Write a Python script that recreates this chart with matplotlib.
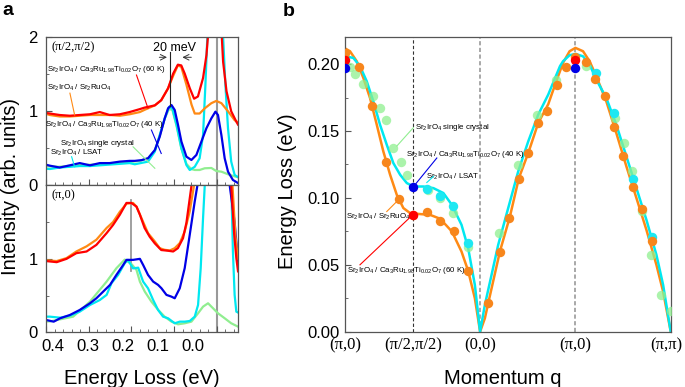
import matplotlib.pyplot as plt
import numpy as np
from matplotlib.ticker import MultipleLocator, FixedLocator, NullFormatter

plt.rcParams['font.family'] = ['Liberation Sans', 'DejaVu Sans']
plt.rcParams['mathtext.fontset'] = 'custom'
plt.rcParams['mathtext.rm'] = 'Liberation Sans'
plt.rcParams['mathtext.it'] = 'Liberation Sans:italic'
plt.rcParams['mathtext.bf'] = 'Liberation Sans:bold'
plt.rcParams['mathtext.default'] = 'regular'

# ---- panel a : RIXS spectra (energy loss in eV, intensity arb. units) ----
# (pi/2, pi/2)
top_red_E = [0.415, 0.391, 0.368, 0.344, 0.321, 0.297, 0.274, 0.251, 0.227, 0.204, 0.18, 0.169, 0.145, 0.13, 0.114, 0.102, 0.091, 0.083, 0.075, 0.063, 0.053, 0.044, 0.032, 0.024, 0.02, 0.01, 0.0, -0.008, -0.012, -0.015, -0.023, -0.034, -0.046, -0.05]
top_red_I = [0.99, 0.97, 0.95, 0.94, 0.95, 0.96, 0.99, 0.95, 0.96, 0.99, 1.03, 1.05, 1.08, 1.15, 1.31, 1.51, 1.63, 1.62, 1.51, 1.31, 1.17, 1.2, 1.45, 1.76, 2.05, 2.8, 3.2, 2.8, 2.0, 1.67, 1.27, 1.0, 0.86, 0.82]
top_orange_E = [0.415, 0.391, 0.368, 0.344, 0.321, 0.297, 0.274, 0.251, 0.227, 0.204, 0.18, 0.169, 0.145, 0.13, 0.114, 0.102, 0.091, 0.083, 0.071, 0.059, 0.0515, 0.04, 0.028, 0.0125, 0.001, -0.011, -0.0265, -0.042, -0.05]
top_orange_I = [0.99, 0.95, 0.93, 0.93, 0.94, 0.95, 0.95, 0.95, 0.94, 0.96, 0.99, 1.02, 1.08, 1.15, 1.31, 1.48, 1.62, 1.6, 1.36, 1.09, 0.97, 0.97, 1.04, 1.11, 1.14, 1.11, 1.0, 0.88, 0.85]
top_blue_E = [0.415, 0.391, 0.368, 0.344, 0.321, 0.297, 0.274, 0.251, 0.227, 0.204, 0.192, 0.176, 0.161, 0.145, 0.1335, 0.1218, 0.114, 0.106, 0.0984, 0.0906, 0.0827, 0.071, 0.0593, 0.0476, 0.0359, 0.0242, 0.0125, 0.003, -0.003, -0.011, -0.0187, -0.0265, -0.038, -0.05]
top_blue_I = [0.30, 0.265, 0.24, 0.27, 0.30, 0.27, 0.30, 0.30, 0.32, 0.33, 0.33, 0.34, 0.365, 0.477, 0.657, 0.905, 1.04, 1.085, 1.018, 0.815, 0.59, 0.387, 0.342, 0.41, 0.59, 0.77, 0.905, 0.995, 0.95, 0.678, 0.365, 0.184, 0.072, 0.03]
top_cyan_E = [0.415, 0.391, 0.368, 0.344, 0.321, 0.297, 0.274, 0.251, 0.227, 0.204, 0.192, 0.161, 0.145, 0.1335, 0.1218, 0.1117, 0.104, 0.094, 0.0827, 0.071, 0.0632, 0.0515, 0.04, 0.032, 0.0265, 0.0218, 0.01, 0.0, -0.01, -0.0148, -0.0204, -0.0265, -0.034, -0.042, -0.05]
top_cyan_I = [0.23, 0.22, 0.24, 0.25, 0.26, 0.26, 0.27, 0.28, 0.29, 0.30, 0.284, 0.32, 0.455, 0.68, 0.905, 1.06, 1.04, 0.815, 0.5, 0.274, 0.207, 0.25, 0.365, 0.68, 1.355, 2.03, 3.5, 4.0, 3.5, 2.03, 1.355, 0.77, 0.32, 0.14, 0.11]
top_green_E = [0.415, 0.37, 0.33, 0.29, 0.25, 0.21, 0.18, 0.16, 0.145, 0.1335, 0.122, 0.112, 0.104, 0.094, 0.083, 0.071, 0.06, 0.0515, 0.04, 0.028, 0.0125, 0.001, -0.011, -0.0265, -0.042, -0.05]
top_green_I = [0.26, 0.25, 0.27, 0.28, 0.29, 0.31, 0.33, 0.37, 0.47, 0.67, 0.9, 1.03, 1.02, 0.8, 0.5, 0.29, 0.22, 0.207, 0.207, 0.23, 0.234, 0.193, 0.184, 0.149, 0.12, 0.11]

# (pi, 0)
bot_red_E = [0.415, 0.4, 0.375, 0.352, 0.329, 0.305, 0.282, 0.258, 0.243, 0.227, 0.2115, 0.2, 0.188, 0.18, 0.169, 0.157, 0.145, 0.13, 0.114, 0.102, 0.091, 0.079, 0.071, 0.063, 0.059, 0.045, 0.02, 0.0, -0.02, -0.034, -0.041, -0.046, -0.05]
bot_red_I = [0.986, 0.97, 0.955, 1.0, 1.077, 1.1, 1.19, 1.35, 1.46, 1.6, 1.76, 1.76, 1.71, 1.6, 1.42, 1.30, 1.21, 1.12, 1.11, 1.10, 1.145, 1.28, 1.49, 1.83, 2.0, 2.8, 3.5, 3.8, 3.5, 2.0, 1.33, 1.01, 0.83]
bot_orange_E = [0.415, 0.375, 0.352, 0.329, 0.305, 0.282, 0.258, 0.243, 0.227, 0.2115, 0.196, 0.188, 0.176, 0.161, 0.145, 0.1335, 0.122, 0.11, 0.0984, 0.0866, 0.075, 0.0632, 0.0531, 0.04, 0.02, 0.0, -0.02, -0.037, -0.044, -0.05]
bot_orange_I = [0.986, 0.97, 1.01, 1.1, 1.17, 1.26, 1.42, 1.5, 1.64, 1.75, 1.76, 1.71, 1.55, 1.35, 1.236, 1.145, 1.123, 1.114, 1.145, 1.214, 1.372, 1.645, 2.0, 2.8, 3.5, 3.8, 3.5, 2.0, 1.3, 1.0]
bot_blue_E = [0.415, 0.4, 0.382, 0.367, 0.344, 0.321, 0.297, 0.282, 0.266, 0.25, 0.235, 0.219, 0.2115, 0.196, 0.18, 0.1725, 0.161, 0.149, 0.1374, 0.1295, 0.1178, 0.106, 0.0984, 0.0866, 0.075, 0.0632, 0.0515, 0.0452, 0.03, 0.0, -0.025, -0.0304, -0.042, -0.05]
bot_blue_I = [0.169, 0.169, 0.146, 0.192, 0.237, 0.305, 0.396, 0.464, 0.555, 0.646, 0.782, 0.918, 0.986, 0.986, 1.0, 0.918, 0.782, 0.691, 0.646, 0.6, 0.51, 0.486, 0.464, 0.6, 0.873, 1.327, 1.78, 2.0, 2.8, 3.5, 2.8, 2.0, 1.5, 0.96]
bot_cyan_E = [0.415, 0.391, 0.367, 0.344, 0.321, 0.297, 0.274, 0.258, 0.2466, 0.231, 0.2155, 0.208, 0.196, 0.184, 0.1725, 0.161, 0.149, 0.1374, 0.1257, 0.114, 0.0984, 0.0866, 0.075, 0.0632, 0.0515, 0.0437, 0.0375, 0.032, 0.028, 0.015, 0.0, -0.02, -0.0343, -0.038, -0.042, -0.046, -0.05]
bot_cyan_I = [0.214, 0.214, 0.2, 0.227, 0.282, 0.373, 0.44, 0.51, 0.669, 0.782, 0.941, 0.986, 0.87, 0.88, 0.691, 0.6, 0.441, 0.305, 0.214, 0.192, 0.124, 0.146, 0.146, 0.155, 0.214, 0.373, 0.873, 1.554, 2.0, 3.5, 4.0, 3.5, 2.0, 1.1, 0.51, 0.282, 0.27]
bot_green_E = [0.415, 0.39, 0.3365, 0.297, 0.258, 0.235, 0.2155, 0.2, 0.188, 0.18, 0.1686, 0.153, 0.137, 0.122, 0.106, 0.0906, 0.075, 0.0593, 0.0437, 0.032, 0.0203, 0.0086, -0.003, -0.0187, -0.034, -0.05]
bot_green_I = [0.146, 0.15, 0.214, 0.418, 0.691, 0.873, 0.99, 0.93, 0.85, 0.69, 0.555, 0.418, 0.305, 0.214, 0.146, 0.11, 0.124, 0.146, 0.26, 0.35, 0.396, 0.328, 0.26, 0.192, 0.124, 0.078]

# energy axis labels of panel a (in the original they sit slightly off the ticks)
e_labels = ['0.4', '0.3', '0.2', '0.1', '0.0']
e_label_px = [53, 88, 123, 158, 193]

# ---- panel b : magnon dispersion along (pi,0)-(pi/2,pi/2)-(0,0)-(pi,0)-(pi,pi) ----
path_labels = ['(π,0)', '(π/2,π/2)', '(0,0)', '(π,0)', '(π,π)']
path_lengths = [np.sqrt(2) / 2, np.sqrt(2) / 2, 1.0, 1.0]   # in units of pi
node_pos = np.concatenate([[0], np.cumsum(path_lengths)])

orange_q = [0, 0.147, 0.284, 0.424, 0.567, 0.708, 0.861, 0.995, 1.136, 1.289, 1.492, 1.622, 1.720, 1.821, 1.919, 2.017, 2.119, 2.216, 2.318, 2.414, 2.521, 2.616, 2.721, 2.815, 2.914, 3.019, 3.117, 3.218]
orange_E = [0.208, 0.1976, 0.1684, 0.1265, 0.0991, 0.0874, 0.0891, 0.0829, 0.0754, 0.0454, 0.0212, 0.0594, 0.0853, 0.1143, 0.1335, 0.156, 0.1652, 0.1847, 0.1979, 0.205, 0.2016, 0.1891, 0.1759, 0.1527, 0.1315, 0.1081, 0.0918, 0.0679]
cyan_q = [0.861, 0.995, 1.134, 1.282, 2.626, 2.815, 3.019, 3.218]
cyan_E = [0.1068, 0.1011, 0.0936, 0.0662, 0.1934, 0.1632, 0.1143, 0.0704]
green_q = [0.049, 0.102, 0.189, 0.294, 0.364, 0.424, 0.504, 0.582, 0.645, 0.872, 0.995, 1.126, 1.287, 1.614, 1.814, 2.006, 2.206, 2.521, 2.826, 2.924, 3.012, 3.117, 3.211, 3.316, 3.42]
green_E = [0.198, 0.1927, 0.1852, 0.176, 0.167, 0.158, 0.137, 0.127, 0.117, 0.106, 0.100, 0.0885, 0.063, 0.074, 0.1243, 0.1622, 0.1884, 0.1984, 0.1597, 0.141, 0.1198, 0.0903, 0.0574, 0.0275, 0.0155]
red_q = [0, 0.708, 2.414]
red_E = [0.2034, 0.0874, 0.2034]
blue_q = [0, 0.708, 2.414]
blue_E = [0.1972, 0.1078, 0.1974]

fit_orange_q = [0, 0.049, 0.12, 0.189, 0.259, 0.33, 0.399, 0.47, 0.54, 0.609, 0.68, 0.785, 0.89, 0.995, 1.118, 1.219, 1.289, 1.359, 1.414, 1.464, 1.499, 1.622, 1.727, 1.821, 1.919, 2.024, 2.129, 2.213, 2.284, 2.353, 2.414, 2.494, 2.563, 2.633, 2.738, 2.843, 2.949, 3.054, 3.159, 3.264, 3.334, 3.414]
fit_orange_E = [0.2116, 0.2096, 0.2021, 0.1897, 0.1747, 0.1547, 0.1347, 0.1173, 0.1023, 0.0924, 0.0886, 0.0879, 0.0873, 0.0844, 0.0749, 0.0599, 0.0454, 0.025, 0.0, 0.01, 0.0212, 0.06, 0.0861, 0.1148, 0.1335, 0.156, 0.170, 0.1871, 0.2009, 0.2096, 0.2121, 0.2096, 0.2021, 0.1909, 0.1722, 0.1485, 0.1235, 0.0999, 0.0761, 0.0499, 0.03, 0.0]
fit_cyan_q = [0, 0.084, 0.154, 0.225, 0.294, 0.364, 0.435, 0.504, 0.575, 0.645, 0.714, 0.819, 0.924, 1.029, 1.118, 1.219, 1.289, 1.359, 1.414, 1.464, 1.534, 1.604, 1.709, 1.814, 1.919, 2.024, 2.129, 2.252, 2.284, 2.353, 2.414, 2.494, 2.563, 2.633, 2.738, 2.843, 2.949, 3.054, 3.159, 3.264, 3.334, 3.414]
fit_cyan_E = [0.2058, 0.2046, 0.1984, 0.1871, 0.1722, 0.1547, 0.1397, 0.126, 0.1173, 0.1111, 0.1085, 0.1085, 0.1073, 0.1036, 0.0948, 0.0799, 0.0624, 0.035, 0.0, 0.02, 0.0424, 0.0649, 0.0924, 0.1198, 0.1422, 0.1622, 0.1772, 0.1984, 0.2021, 0.2066, 0.2076, 0.2058, 0.1996, 0.1884, 0.1747, 0.1547, 0.131, 0.1073, 0.0836, 0.0574, 0.035, 0.0]

lbl_60 = r'Sr$_2$IrO$_4$ / Ca$_3$Ru$_{1.98}$Ti$_{0.02}$O$_7$ (60 K)'
lbl_40 = r'Sr$_2$IrO$_4$ / Ca$_3$Ru$_{1.98}$Ti$_{0.02}$O$_7$ (40 K)'
lbl_ru = r'Sr$_2$IrO$_4$ / Sr$_2$RuO$_4$'
lbl_sc = r'Sr$_2$IrO$_4$ single crystal'
lbl_lsat = r'Sr$_2$IrO$_4$ / LSAT'

c_red, c_orange, c_blue = '#ff0000', '#ff8a14', '#0000e6'
c_cyan, c_green = '#00e8f0', '#90ee90'
c_spine = '#555555'
serif = ['Liberation Serif', 'DejaVu Serif']
ann_fs = 5.7

W, H = 685, 387
fig = plt.figure(figsize=(6.85, 3.87), dpi=100)
ax_t = fig.add_axes([0.0672, 0.5212, 0.2803, 0.3824])
ax_b = fig.add_axes([0.0672, 0.1411, 0.2803, 0.3801])
ax_q = fig.add_axes([0.5041, 0.1429, 0.4751, 0.7607])

spectra = [
    (ax_t, [(top_green_E, top_green_I, c_green), (top_cyan_E, top_cyan_I, c_cyan),
            (top_blue_E, top_blue_I, c_blue), (top_orange_E, top_orange_I, c_orange),
            (top_red_E, top_red_I, c_red)]),
    (ax_b, [(bot_green_E, bot_green_I, c_green), (bot_cyan_E, bot_cyan_I, c_cyan),
            (bot_blue_E, bot_blue_I, c_blue), (bot_orange_E, bot_orange_I, c_orange),
            (bot_red_E, bot_red_I, c_red)]),
]
for ax, curves in spectra:
    ax.axvline(0.0, color='#999999', lw=1.5, zorder=1)
    for E, I, c in curves:
        ax.plot(E, I, color=c, lw=1.6, solid_joinstyle='round', zorder=2)
    ax.set_xlim(0.4, -0.05)
    ax.set_ylim(0, 2)
    ax.xaxis.set_major_locator(MultipleLocator(0.1))
    ax.xaxis.set_minor_locator(MultipleLocator(0.02))
    ax.xaxis.set_major_formatter(NullFormatter())
    ax.yaxis.set_major_locator(MultipleLocator(1))
    ax.yaxis.set_minor_locator(MultipleLocator(0.5))
    ax.tick_params(which='both', direction='in', labelsize=12, color=c_spine, pad=6)
    ax.tick_params(which='major', length=4)
    ax.tick_params(which='minor', length=2.5)
    for s in ax.spines.values():
        s.set_color(c_spine)
        s.set_linewidth(0.9)

ax_t.yaxis.set_major_locator(FixedLocator([0, 1, 2]))
ax_b.yaxis.set_major_locator(FixedLocator([0, 1]))
for lab, px in zip(e_labels, e_label_px):
    fig.text(px / W, 1 - 346.5 / H, lab, fontsize=12, ha='center', va='center')

# top panel annotations
ax_t.text(0.387, 1.87, '(π/2,π/2)', family=serif, fontsize=9, va='center')
ax_t.plot([0.110, 0.110], [1.07, 1.80], color='#222222', lw=0.8, zorder=3)
ax_t.annotate('', xy=(0.110, 1.73), xytext=(0.141, 1.73),
              arrowprops=dict(arrowstyle='->', color='#333333', lw=0.7))
ax_t.annotate('', xy=(0.087, 1.73), xytext=(0.053, 1.73),
              arrowprops=dict(arrowstyle='->', color='#333333', lw=0.7))
ax_t.text(0.098, 1.86, '20 meV', fontsize=9, ha='center', va='center')
ax_t.text(0.398, 1.56, lbl_60, fontsize=ann_fs, va='center')
ax_t.plot([0.188, 0.161], [1.49, 1.04], color=c_red, lw=0.8)
ax_t.text(0.398, 1.31, lbl_ru, fontsize=ann_fs, va='center')
ax_t.plot([0.344, 0.333], [1.245, 0.95], color=c_orange, lw=0.8)
ax_t.text(0.403, 0.824, lbl_40, fontsize=ann_fs, va='center')
ax_t.plot([0.153, 0.13], [0.747, 0.43], color=c_blue, lw=0.8)
ax_t.text(0.368, 0.568, lbl_sc, fontsize=ann_fs, va='center')
ax_t.plot([0.196, 0.145], [0.52, 0.23], color=c_green, lw=0.8)
ax_t.text(0.391, 0.432, lbl_lsat, fontsize=ann_fs, va='center')
ax_t.plot([0.34, 0.333], [0.386, 0.25], color=c_cyan, lw=0.8)

# bottom panel annotations
ax_b.text(0.387, 1.87, '(π,0)', family=serif, fontsize=9, va='center')
ax_b.plot([0.2, 0.2], [0.83, 1.80], color='#999999', lw=1.3, zorder=1)

# ---- panel b ----
ax_q.axvline(node_pos[1], color='#333333', lw=0.8, ls=(0, (3, 2)), zorder=1)
ax_q.axvline(node_pos[2], color='#999999', lw=1.2, ls=(0, (2.5, 1.5)), zorder=1)
ax_q.axvline(node_pos[3], color='#999999', lw=1.2, ls=(0, (2.5, 1.5)), zorder=1)
ax_q.plot(fit_orange_q, fit_orange_E, color=c_orange, lw=1.8, zorder=2)
ax_q.plot(fit_cyan_q, fit_cyan_E, color=c_cyan, lw=1.8, zorder=2)
ax_q.scatter(green_q, green_E, s=46, color='#8ff08f', alpha=0.75, lw=0, zorder=3)
ax_q.scatter(cyan_q, cyan_E, s=46, color='#1ee8f2', lw=0, zorder=4)
ax_q.scatter(orange_q, orange_E, s=46, color='#f7861c', lw=0, zorder=5)
ax_q.scatter(red_q, red_E, s=46, color=c_red, lw=0, zorder=6)
ax_q.scatter(blue_q, blue_E, s=46, color=c_blue, lw=0, zorder=6)

ax_q.set_xlim(node_pos[0], node_pos[-1])
ax_q.set_ylim(0, 0.22)
ax_q.set_xticks(node_pos)
ax_q.xaxis.set_major_formatter(NullFormatter())
ax_q.yaxis.set_major_locator(MultipleLocator(0.05))
ax_q.yaxis.set_minor_locator(MultipleLocator(0.025))
ax_q.yaxis.set_major_formatter(plt.FuncFormatter(lambda v, p: f'{v:.2f}'))
ax_q.tick_params(axis='x', length=0)
ax_q.tick_params(axis='y', which='both', direction='in', labelsize=12, color=c_spine, pad=4)
ax_q.tick_params(axis='y', which='major', length=4)
ax_q.tick_params(axis='y', which='minor', length=2.5)
for s in ax_q.spines.values():
    s.set_color(c_spine)
    s.set_linewidth(0.9)
# momentum labels; the last one is nudged in so it is not cut at the figure edge
for i, (lab, x) in enumerate(zip(path_labels, node_pos)):
    dx = -0.045 if i == len(node_pos) - 1 else 0
    ax_q.text(x + dx, -0.048, lab, family=serif, fontsize=12, ha='center', va='center',
              transform=ax_q.get_xaxis_transform())

ax_q.text(0.732, 0.1527, lbl_sc, fontsize=ann_fs, va='center')
ax_q.plot([0.54, 0.714], [0.1387, 0.1525], color=c_green, lw=0.8)
ax_q.text(0.638, 0.1323, lbl_40, fontsize=ann_fs, va='center')
ax_q.plot([0.708, 0.96], [0.1078, 0.1298], color=c_blue, lw=0.8, zorder=5)
ax_q.text(0.845, 0.116, lbl_lsat, fontsize=ann_fs, va='center')
ax_q.plot([0.855, 0.925], [0.1115, 0.116], color=c_cyan, lw=0.8, zorder=5)
ax_q.text(0.005, 0.086, lbl_ru, fontsize=ann_fs, va='center')
ax_q.plot([0.435, 0.54], [0.0898, 0.0973], color=c_orange, lw=0.8)
ax_q.text(0.015, 0.0454, lbl_60, fontsize=ann_fs, va='center')
ax_q.plot([0.154, 0.708], [0.05, 0.0874], color=c_red, lw=0.8, zorder=5)

# labels
fig.text(0.016, 0.519, 'Intensity (arb. units)', rotation=90, fontsize=14.5,
         ha='center', va='center')
fig.text(0.207, 0.009, 'Energy Loss (eV)', fontsize=14.5, ha='center', va='baseline')
fig.text(0.420, 0.506, 'Energy Loss (eV)', rotation=90, fontsize=14.5,
         ha='center', va='center')
fig.text(0.734, 0.009, 'Momentum q', fontsize=14.5, ha='center', va='baseline')
fig.text(0.004, 0.961, 'a', fontsize=14, fontweight='bold', va='baseline')
fig.text(0.413, 0.959, 'b', fontsize=14, fontweight='bold', va='baseline')

fig.savefig('out.png', dpi=100)
